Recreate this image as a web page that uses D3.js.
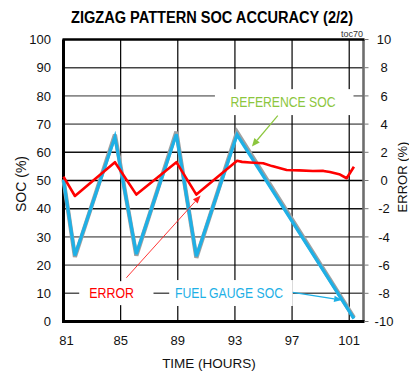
<!DOCTYPE html>
<html>
<head>
<meta charset="utf-8">
<script src="https://cdn.jsdelivr.net/npm/d3@7"></script>
<style>
  html, body { margin: 0; padding: 0; background: #fff; }
  svg { display: block; font-family: "Liberation Sans", Arial, sans-serif; }
</style>
</head>
<body>
<svg id="chart" width="409" height="375"></svg>
<script>
// ---- data ----
const hourTicks = [81, 85, 89, 93, 97, 101];
const socTicks = [0, 10, 20, 30, 40, 50, 60, 70, 80, 90, 100];
const errTicks = [-10, -8, -6, -4, -2, 0, 2, 4, 6, 8, 10];

// fuel gauge SOC (%) vs time (hours)
const gaugeHours = [81, 81.8, 84.6, 86.1, 88.9, 90.3, 93.15, 101.33];
const gaugeSoc   = [50.2, 23.4, 65.4, 23.9, 66.4, 23.1, 66.2, 1.0];

// reference SOC (%) vs time (hours)
const refHours = [81, 81.8, 84.6, 86.1, 88.9, 90.3, 93.15, 101.33];
const refSoc   = [50.4, 22.9, 66.3, 23.4, 67.3, 22.6, 67.1, 1.4];

// SOC error (%) vs time (hours)
const errHours = [81, 81.8, 84.6, 86.1, 88.9, 90.3, 93.15, 93.5, 94.05, 94.98, 95.6, 96.62, 97.5, 98.46, 99.2, 99.65, 100.3, 100.82, 101.33];
const errValues = [0.27, -1.1, 1.3, -1.0, 1.3, -1.0, 1.4, 1.32, 1.28, 1.22, 1.02, 0.74, 0.72, 0.67, 0.68, 0.6, 0.45, 0.16, 0.98];

// ---- layout ----
const svg = d3.select("#chart");
const x = d3.scaleLinear().domain([81, 102]).range([63.5, 363.5]);
const y = d3.scaleLinear().domain([0, 100]).range([321.5, 39.5]);
const yErr = d3.scaleLinear().domain([-10, 10]).range([321.5, 39.5]);

// gridline colours per SOC level
const gridColor = {10: "#555", 20: "#808080", 30: "#808080", 40: "#111", 50: "#000", 60: "#111", 70: "#7a7a7a", 80: "#8a8a8a", 90: "#444"};

// horizontal gridlines
svg.append("g").selectAll("line")
  .data(socTicks.filter(v => v > 0 && v < 100))
  .join("line")
  .attr("x1", x(81)).attr("x2", x(102))
  .attr("y1", d => y(d)).attr("y2", d => y(d))
  .attr("stroke", d => gridColor[d]).attr("stroke-width", 1.6);

// vertical gridlines
svg.append("g").selectAll("line")
  .data(hourTicks.filter(h => h > 81))
  .join("line")
  .attr("x1", d => x(d)).attr("x2", d => x(d))
  .attr("y1", y(100)).attr("y2", y(0))
  .attr("stroke", "#000").attr("stroke-width", 1.2);

// white label boxes over the grid
const boxes = [
  {h0: 91.6, h1: 101.3, s0: 73.2, s1: 82.4},
  {h0: 82.1, h1: 87.3, s0: 5.8, s1: 14.3},
  {h0: 88.4, h1: 97.05, s0: 5.5, s1: 14.7}
];
svg.append("g").selectAll("rect")
  .data(boxes)
  .join("rect")
  .attr("x", d => x(d.h0)).attr("width", d => x(d.h1) - x(d.h0))
  .attr("y", d => y(d.s1)).attr("height", d => y(d.s0) - y(d.s1))
  .attr("fill", "#fff");

// frame
svg.append("line").attr("x1", x(102)).attr("x2", x(102)).attr("y1", y(100)).attr("y2", y(0))
  .attr("stroke", "#6e6e6e").attr("stroke-width", 2.6);
svg.append("line").attr("x1", x(81) - 1).attr("x2", x(102) + 1).attr("y1", y(100)).attr("y2", y(100))
  .attr("stroke", "#000").attr("stroke-width", 2.4);
svg.append("line").attr("x1", x(81)).attr("x2", x(81)).attr("y1", y(100)).attr("y2", y(0) + 1.5)
  .attr("stroke", "#000").attr("stroke-width", 3);
svg.append("line").attr("x1", x(81)).attr("x2", x(102) + 1).attr("y1", y(0)).attr("y2", y(0))
  .attr("stroke", "#000").attr("stroke-width", 3);

// right axis tick marks
svg.append("g").selectAll("line")
  .data(errTicks)
  .join("line")
  .attr("x1", x(102) + 1).attr("x2", x(102) + 5)
  .attr("y1", d => yErr(d)).attr("y2", d => yErr(d))
  .attr("stroke", "#777").attr("stroke-width", 1);

// ---- series ----
const lineGen = d3.line().x(d => x(d[0])).y(d => d[1]);

svg.append("path")
  .attr("d", lineGen(refHours.map((h, i) => [h, y(refSoc[i])])))
  .attr("fill", "none").attr("stroke", "#a0a0a0").attr("stroke-width", 4.2)
  .attr("stroke-linejoin", "miter");

svg.append("path")
  .attr("d", lineGen(gaugeHours.map((h, i) => [h, y(gaugeSoc[i])])))
  .attr("fill", "none").attr("stroke", "#1eb0e6").attr("stroke-width", 3.2)
  .attr("stroke-linejoin", "miter");

svg.append("path")
  .attr("d", lineGen(errHours.map((h, i) => [h, yErr(errValues[i])])))
  .attr("fill", "none").attr("stroke", "#ff0000").attr("stroke-width", 2.6)
  .attr("stroke-linejoin", "round");

// ---- annotation arrows ----
function arrow(x1, y1, x2, y2, color, width, len, half) {
  const a = Math.atan2(y2 - y1, x2 - x1);
  const bx = x2 - len * Math.cos(a), by = y2 - len * Math.sin(a);
  svg.append("line").attr("x1", x1).attr("y1", y1).attr("x2", bx).attr("y2", by)
    .attr("stroke", color).attr("stroke-width", width);
  const px = Math.sin(a) * half, py = -Math.cos(a) * half;
  svg.append("path")
    .attr("d", `M${x2},${y2}L${bx + px},${by + py}L${bx - px},${by - py}Z`)
    .attr("fill", color);
}
arrow(x(96.0), y(73.0), x(94.19), y(62.1), "#8cc63e", 1.2, 8, 3.5);
arrow(x(85.4), y(15.5), x(90.6), y(44.7), "#ff2020", 0.9, 8, 3.2);
arrow(x(97.05), y(10.3), x(100.5), y(7.6), "#1eb0e6", 1.3, 8, 3.2);

// ---- labels ----
svg.append("text").attr("x", 230.5).attr("y", 106.5)
  .attr("textLength", 105).attr("lengthAdjust", "spacingAndGlyphs")
  .attr("font-size", 14.5).attr("fill", "#8cc63e").text("REFERENCE SOC");
svg.append("text").attr("x", 89.3).attr("y", 297.5)
  .attr("textLength", 44.7).attr("lengthAdjust", "spacingAndGlyphs")
  .attr("font-size", 14.5).attr("fill", "#ff0000").text("ERROR");
svg.append("text").attr("x", 175).attr("y", 298)
  .attr("textLength", 108).attr("lengthAdjust", "spacingAndGlyphs")
  .attr("font-size", 14.5).attr("fill", "#1eb0e6").text("FUEL GAUGE SOC");

// title
svg.append("text").attr("x", 71).attr("y", 23.3)
  .attr("textLength", 282).attr("lengthAdjust", "spacingAndGlyphs")
  .attr("font-size", 16).attr("font-weight", "bold").attr("fill", "#000")
  .text("ZIGZAG PATTERN SOC ACCURACY (2/2)");
svg.append("text").attr("x", 363).attr("y", 37).attr("text-anchor", "end")
  .attr("font-size", 9).attr("fill", "#333").text("toc70");

// left axis labels
svg.append("g").selectAll("text")
  .data(socTicks)
  .join("text")
  .attr("x", 51).attr("y", d => y(d)).attr("dy", "0.36em")
  .attr("text-anchor", "end").attr("font-size", 13).attr("fill", "#111")
  .text(d => d);

// right axis labels
svg.append("g").selectAll("text")
  .data(errTicks)
  .join("text")
  .attr("x", 384).attr("y", d => yErr(d)).attr("dy", "0.36em")
  .attr("text-anchor", "middle").attr("font-size", 13).attr("fill", "#111")
  .text(d => d);

// bottom axis labels
svg.append("g").selectAll("text")
  .data(hourTicks)
  .join("text")
  .attr("x", d => x(d) + (d === 81 ? 3 : 0)).attr("y", 345)
  .attr("text-anchor", "middle").attr("font-size", 13).attr("fill", "#111")
  .text(d => d);

// axis titles
svg.append("text").attr("x", 209).attr("y", 368).attr("text-anchor", "middle")
  .attr("font-size", 13.5).attr("fill", "#111").text("TIME (HOURS)");
svg.append("text").attr("transform", "translate(26,184) rotate(-90)")
  .attr("text-anchor", "middle").attr("font-size", 14).attr("fill", "#111").text("SOC (%)");
svg.append("text").attr("transform", "translate(407,177) rotate(-90)")
  .attr("text-anchor", "middle").attr("font-size", 13).attr("fill", "#111").text("ERROR (%)");
</script>
</body>
</html>
